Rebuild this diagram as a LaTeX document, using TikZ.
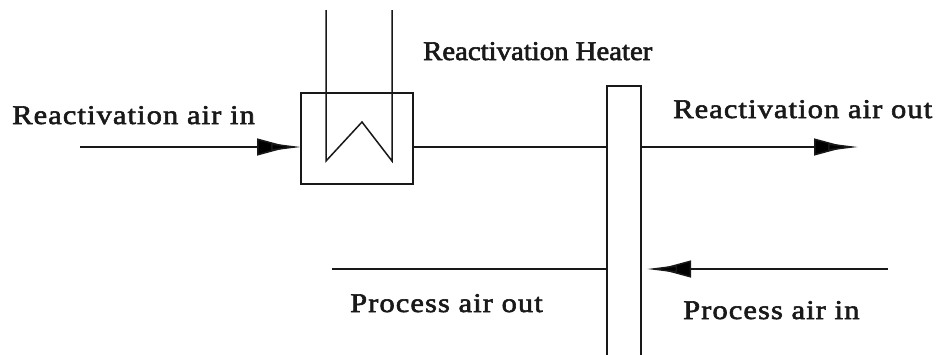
\documentclass[tikz,border=0pt]{standalone}
\usepackage{fontspec}
\setmainfont{Liberation Serif}
\newfontfamily\lblwide[FakeStretch=1.13,LetterSpace=4,FakeBold=2.2]{Liberation Serif}
\newfontfamily\lblnarrow[FakeStretch=1.065,FakeBold=2.2]{Liberation Serif}
\usetikzlibrary{arrows.meta}
\tikzset{
  px/.style={x=1pt,y=-1pt},
  ln/.style={draw=black!90,line width=1.5pt},
  flow/.style={ln,-{Triangle[length=32pt,width=17pt,fill=black,sep=-18pt]Triangle[length=30pt,width=7pt,fill=black]}},
  unit/.style={ln,fill=white,minimum width=0pt,minimum height=0pt,inner sep=0pt,outer sep=0pt},
  lbl/.style={text=black!90,inner sep=0pt,anchor=base west},
  lblw/.style={lbl,font=\lblwide\fontsize{27}{32}\selectfont},
  lbln/.style={lbl,font=\lblnarrow\fontsize{27}{32}\selectfont},
}
\begin{document}
\begin{tikzpicture}[px]
\useasboundingbox (0,0) rectangle (938,354);
\fill[white] (0,0) rectangle (938,354);
% coordinates
\coordinate (rin) at (80,147);
\coordinate (rout) at (858,147);
\coordinate (pin) at (888,269);
\coordinate (ptip) at (647,269);
\coordinate (pout) at (332,269);
\coordinate (c1) at (326,10);
\coordinate (c2) at (326,161);
\coordinate (c3) at (362,122);
\coordinate (c4) at (392,161);
\coordinate (c5) at (392,10);
% units
\node[unit,minimum width=112pt,minimum height=91pt] (heater) at (357,138.5) {};
\node[unit,minimum width=34pt,minimum height=280pt] (wheel) at (624,226) {};
% connectors
\draw[ln] (c1) -- (c2) -- (c3) -- (c4) -- (c5);
\draw[flow] (rin) -- (heater.west |- rin);
\draw[ln] (heater.east |- rin) -- (wheel.west |- rin);
\draw[flow] (wheel.east |- rout) -- (rout);
\draw[flow] (pin) -- (ptip);
\draw[ln] (wheel.west |- pout) -- (pout);
% labels
\node[lblw] (t1) at (12,124) {Reactivation air in};
\node[lbln] (t2) at (423,60) {Reactivation Heater};
\node[lblw] (t3) at (673,118) {Reactivation air out};
\node[lblw] (t4) at (350,312) {Process air out};
\node[lblw] (t5) at (683,319) {Process air in};
\end{tikzpicture}
\end{document}
